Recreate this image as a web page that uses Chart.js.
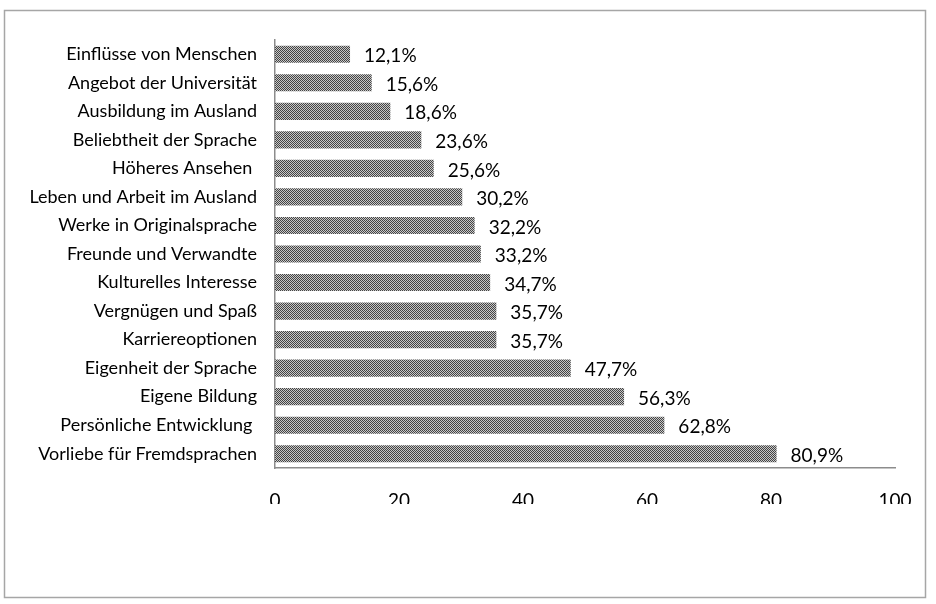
<!DOCTYPE html>
<html>
<head>
<meta charset="utf-8">
<script src="https://cdn.jsdelivr.net/npm/chart.js@4"></script>
<style>
  body { margin: 0; background: #fff; }
</style>
</head>
<body>
<canvas id="myChart" width="936" height="604"></canvas>
<script>
const categories = [
  'Einflüsse von Menschen',
  'Angebot der Universität',
  'Ausbildung im Ausland',
  'Beliebtheit der Sprache',
  'Höheres Ansehen ',
  'Leben und Arbeit im Ausland',
  'Werke in Originalsprache',
  'Freunde und Verwandte',
  'Kulturelles Interesse',
  'Vergnügen und Spaß',
  'Karriereoptionen',
  'Eigenheit der Sprache',
  'Eigene Bildung',
  'Persönliche Entwicklung ',
  'Vorliebe für Fremdsprachen'
];
const shares = [12.1, 15.6, 18.6, 23.6, 25.6, 30.2, 32.2, 33.2, 34.7, 35.7, 35.7, 47.7, 56.3, 62.8, 80.9];
const xTicks = [0, 20, 40, 60, 80, 100];

const fontFamily = "Lato, 'Open Sans', sans-serif";

// checkered fill like the office pattern
function makePattern() {
  const c = document.createElement('canvas');
  c.width = 2; c.height = 2;
  const g = c.getContext('2d');
  g.fillStyle = '#c8c8c8';
  g.fillRect(0, 0, 2, 2);
  g.fillStyle = '#444';
  g.fillRect(0, 0, 1, 1);
  g.fillRect(1, 1, 1, 1);
  return g.createPattern(c, 'repeat');
}

// value labels next to each bar
const valueLabels = {
  id: 'valueLabels',
  afterDatasetsDraw(chart) {
    const ctx = chart.ctx;
    const meta = chart.getDatasetMeta(0);
    ctx.save();
    ctx.font = '19px ' + fontFamily;
    ctx.fillStyle = '#000';
    ctx.textBaseline = 'middle';
    ctx.textAlign = 'left';
    meta.data.forEach((bar, i) => {
      const txt = shares[i].toFixed(1).replace('.', ',') + '%';
      ctx.fillText(txt, bar.x + 14, bar.y + 2);
    });
    ctx.restore();
  }
};

// outer frame
const frame = {
  id: 'frame',
  beforeDraw(chart) {
    const ctx = chart.ctx;
    ctx.save();
    ctx.fillStyle = '#fff';
    ctx.fillRect(0, 0, chart.width, chart.height);
    ctx.strokeStyle = '#a6a6a6';
    ctx.lineWidth = 1.5;
    ctx.strokeRect(4.5, 10.5, 921, 587);
    ctx.restore();
  }
};

const data = {
  labels: categories,
  datasets: [{
    data: shares,
    backgroundColor: makePattern(),
    borderWidth: 0,
    categoryPercentage: 0.6,
    barPercentage: 1
  }]
};

const config = {
  type: 'bar',
  data,
  plugins: [frame, valueLabels],
  options: {
    indexAxis: 'y',
    responsive: false,
    animation: false,
    layout: { padding: { left: 0, right: 41, top: 40, bottom: 100 } },
    plugins: {
      legend: { display: false },
      tooltip: { enabled: false }
    },
    scales: {
      x: {
        min: 0,
        max: 100,
        afterBuildTicks(scale) {
          scale.ticks = xTicks.map(v => ({ value: v }));
        },
        afterFit(scale) { scale.height = 36; },
        grid: { display: false, drawTicks: false },
        border: { color: '#8c8c8c', width: 1.5 },
        ticks: {
          color: '#000',
          padding: 21,
          font: { family: fontFamily, size: 19 }
        }
      },
      y: {
        afterFit(scale) { scale.width = 275; },
        grid: { display: false, drawTicks: false },
        border: { color: '#8c8c8c', width: 1.5 },
        ticks: {
          color: '#000',
          padding: 18,
          font: { family: fontFamily, size: 18 }
        }
      }
    }
  }
};

const myChart = new Chart(document.getElementById('myChart'), config);
</script>
</body>
</html>
